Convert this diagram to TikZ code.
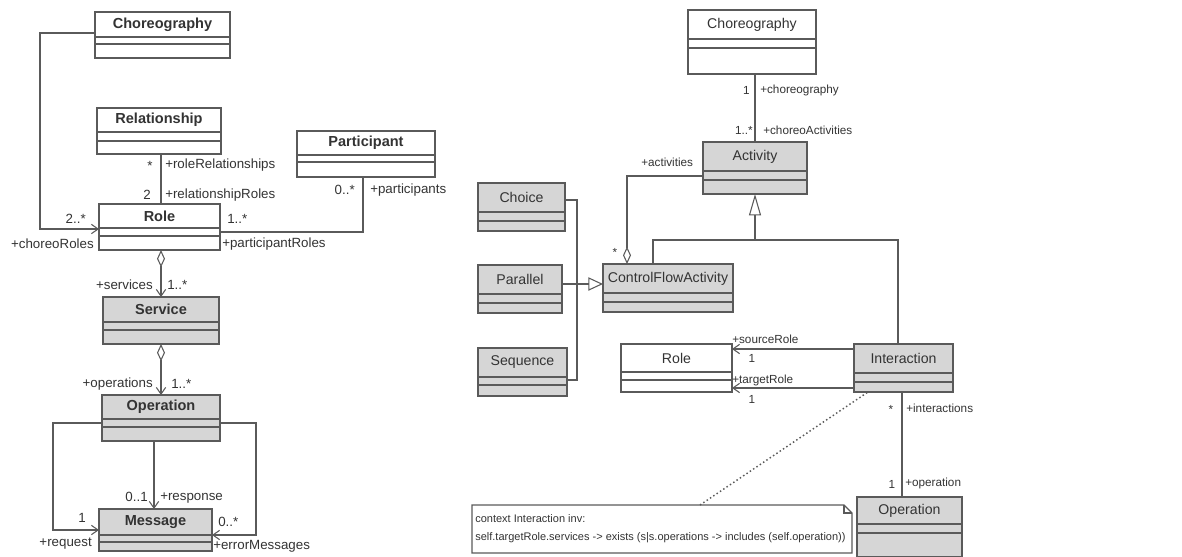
\documentclass[tikz,border=0pt]{standalone}
\usepackage{fontspec}
\setmainfont{Liberation Sans}
\usetikzlibrary{arrows.meta}
\definecolor{lc}{HTML}{5A5A5A}
\definecolor{boxgray}{HTML}{D6D6D6}
\definecolor{tc}{HTML}{333333}
\tikzset{
  whitebox/.style={draw=lc, line width=0.8pt, fill=white, inner sep=0pt, outer sep=0pt},
  graybox/.style={draw=lc, line width=0.8pt, fill=boxgray, inner sep=0pt, outer sep=0pt},
  clsline/.style={draw=lc, line width=0.8pt},
  whitebox title/.style={text=tc, inner sep=0pt, font=\fontsize{10.6}{12}\selectfont},
  graybox title/.style={text=tc, inner sep=0pt, font=\fontsize{10.6}{12}\selectfont},
  lwhitebox/.style={whitebox},
  lgraybox/.style={graybox},
  lwhitebox title/.style={text=tc, inner sep=0pt, font=\bfseries\fontsize{10.9}{12}\selectfont},
  lgraybox title/.style={text=tc, inner sep=0pt, font=\bfseries\fontsize{10.9}{12}\selectfont},
  conn/.style={draw=lc, line width=0.8pt},
  lab/.style={text=tc, inner sep=0pt, font=\fontsize{10}{11}\selectfont},
  rlab/.style={text=tc, inner sep=0pt, font=\fontsize{8.8}{10}\selectfont},
  opena/.style={-{Straight Barb[length=5pt,width=7pt,line width=0.8pt]}},
  agg/.style={{Diamond[open,length=13pt,width=6pt,line width=0.8pt]}-},
  aggnav/.style={{Diamond[open,length=13pt,width=6pt,line width=0.8pt]}-{Straight Barb[length=5pt,width=7pt,line width=0.8pt]}},
}
\newcommand\uclass[9]{%
  \node[#8, anchor=north west, minimum width={(#4-#2)*0.75pt}, minimum height={(#5-#3)*0.75pt}] (#1) at (#2,#3) {};
  \draw[clsline] (#2,#6) -- (#4,#6) (#2,#7) -- (#4,#7);
  \node[#8 title] (#1-t) at ({(#2+#4)/2},{(#3+#6)/2}) {#9};
}
\begin{document}
\begin{tikzpicture}[x=0.75pt,y=-0.75pt]
\useasboundingbox (0,0) rectangle (1182,557);
% ---------------- left diagram ----------------
\uclass{chL}{95}{12}{230}{58}{37}{44}{lwhitebox}{Choreography}
\uclass{rel}{97}{108}{221}{154}{132}{141}{lwhitebox}{Relationship}
\uclass{part}{297}{131}{435}{177}{155}{162}{lwhitebox}{Participant}
\uclass{roleL}{99}{204}{220}{250}{228}{236}{lwhitebox}{Role}
\uclass{serv}{103}{297}{219}{344}{322}{330}{lgraybox}{Service}
\uclass{opL}{102}{395}{220}{441}{419}{427}{lgraybox}{Operation}
\uclass{msg}{99}{509}{212}{551}{535}{542}{lgraybox}{Message}

\draw[conn,opena] (chL.west |- 0,33) -- (40,33) -- (40,229) -- (roleL.west |- 0,229);
\draw[conn] (rel.south -| 161,0) -- (roleL.north -| 161,0);
\draw[conn] (roleL.east |- 0,232) -- (363,232) -- (part.south -| 363,0);
\draw[conn,aggnav] (roleL.south -| 161,0) -- (serv.north -| 161,0);
\draw[conn,aggnav] (serv.south -| 161,0) -- (opL.north -| 161,0);
\draw[conn,opena] (opL.south -| 154,0) -- (msg.north -| 154,0);
\draw[conn,opena] (opL.west |- 0,423) -- (53,423) -- (53,530) -- (msg.west |- 0,530);
\draw[conn,opena] (opL.east |- 0,423) -- (256,423) -- (256,535) -- (msg.east |- 0,535);

\node[lab] (l1) at (150,166) {*};
\node[lab,anchor=west] (l2) at (165,165) {+roleRelationships};
\node[lab] (l3) at (147,195) {2};
\node[lab,anchor=west] (l4) at (165,195) {+relationshipRoles};
\node[lab,anchor=east] (l5) at (355,190) {0..*};
\node[lab,anchor=west] (l6) at (370,190) {+participants};
\node[lab,anchor=west] (l7) at (227,219) {1..*};
\node[lab,anchor=west] (l8) at (222,244) {+participantRoles};
\node[lab,anchor=east] (l9) at (86,219) {2..*};
\node[lab,anchor=east] (l10) at (94,244) {+choreoRoles};
\node[lab,anchor=east] (l11) at (153,285) {+services};
\node[lab,anchor=west] (l12) at (167,285) {1..*};
\node[lab,anchor=east] (l13) at (153,384) {+operations};
\node[lab,anchor=west] (l14) at (171,384) {1..*};
\node[lab,anchor=east] (l15) at (148,497) {0..1};
\node[lab,anchor=west] (l16) at (160,498) {+response};
\node[lab] (l17) at (82,518) {1};
\node[lab,anchor=east] (l18) at (92,544) {+request};
\node[lab,anchor=west] (l19) at (218,522) {0..*};
\node[lab,anchor=west] (l20) at (213,546) {+errorMessages};

% ---------------- right diagram ----------------
\uclass{chR}{688}{10}{816}{74}{39}{48}{whitebox}{Choreography}
\uclass{act}{703}{142}{807}{194}{171}{180}{graybox}{Activity}
\uclass{choice}{478}{183}{565}{231}{212}{221}{graybox}{Choice}
\uclass{par}{478}{265}{562}{313}{294}{303}{graybox}{Parallel}
\uclass{seq}{478}{348}{567}{396}{377}{385}{graybox}{Sequence}
\uclass{cfa}{603}{264}{733}{312}{293}{302}{graybox}{ControlFlowActivity}
\uclass{roleR}{621}{344}{732}{392}{372}{380}{whitebox}{Role}
\uclass{inter}{854}{344}{953}{392}{373}{382}{graybox}{Interaction}
\uclass{opR}{857}{497}{962}{557}{524}{533}{graybox}{Operation}

\draw[conn] (chR.south -| 755,0) -- (act.north -| 755,0);
\draw[conn,agg] (cfa.north -| 627,0) -- (627,176) -- (act.west |- 0,176);
\draw[conn,{Triangle[open,length=16pt,width=9pt,line width=0.8pt]}-] (act.south -| 755,0) -- (755,240);
\draw[conn] (cfa.north -| 653,0) -- (653,240) -- (898,240) -- (inter.north -| 898,0);
\draw[conn] (choice.east |- 0,200) -- (577,200) -- (577,380) -- (seq.east |- 0,380);
\draw[conn,-{Triangle[open,length=11pt,width=10pt,line width=0.8pt]}] (par.east |- 0,284) -- (cfa.west |- 0,284);
\draw[conn,opena] (inter.west |- 0,349) -- (roleR.east |- 0,349);
\draw[conn,opena] (inter.west |- 0,388) -- (roleR.east |- 0,388);
\draw[conn] (inter.south -| 902,0) -- (opR.north -| 902,0);

\node[rlab,anchor=east] (r1) at (750,90) {1};
\node[rlab,anchor=west] (r2) at (760,90) {+choreography};
\node[rlab,anchor=east] (r3) at (753,130) {1..*};
\node[rlab,anchor=west] (r4) at (763,130) {+choreoActivities};
\node[rlab,anchor=west] (r5) at (641,162) {+activities};
\node[rlab] (r6) at (615,252) {*};
\node[rlab,anchor=west] (r7) at (732,339) {+sourceRole};
\node[rlab] (r8) at (752,358) {1};
\node[rlab,anchor=west] (r9) at (732,380) {+targetRole};
\node[rlab] (r10) at (752,399) {1};
\node[rlab] (r11) at (891,409) {*};
\node[rlab,anchor=west] (r12) at (906,408) {+interactions};
\node[rlab] (r13) at (892,484) {1};
\node[rlab,anchor=west] (r14) at (905,483) {+operation};

% note
\draw[conn,fill=white] (472,505) -- (844,505) -- (852,513) -- (852,553) -- (472,553) -- cycle;
\draw[conn] (844,505) -- (844,513) -- (852,513);
\coordinate (notetop) at (700,505);
\node[rlab,anchor=west,font=\fontsize{8.25}{10}\selectfont] (n1) at (475,519) {context Interaction inv:};
\node[rlab,anchor=west,font=\fontsize{8.25}{10}\selectfont] (n2) at (475,538) {self.targetRole.services -> exists (s|s.operations -> includes (self.operation))};
\draw[draw=lc,line width=1.1pt,dash pattern=on 1.1pt off 1.9pt] (notetop) -- (inter.south west -| 868,0);
\end{tikzpicture}
\end{document}
